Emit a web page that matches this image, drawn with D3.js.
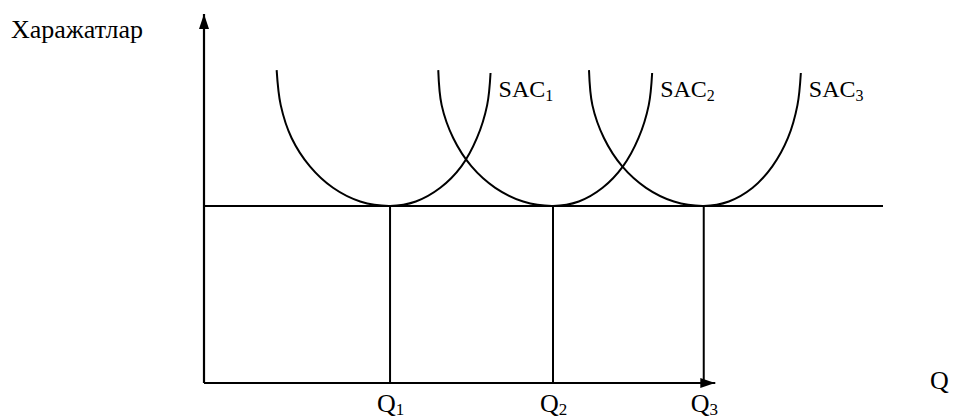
<!DOCTYPE html>
<html>
<head>
<meta charset="utf-8">
<script src="https://cdn.jsdelivr.net/npm/d3@7"></script>
<style>
  body { margin: 0; background: #fff; }
  svg text { font-family: "Liberation Serif", "Times New Roman", "DejaVu Serif", serif; fill: #000; }
</style>
</head>
<body>
<svg id="chart"></svg>
<script>
//------ Données ------
// Q (0..100) et coûts (0..100)
const qNames = ["1", "2", "3"]
const qMin = [27.4, 51.4, 73.6]        // Q1, Q2, Q3
const lacCost = 48.0                    // ligne horizontale (coût minimum)
const sac1Q = [10.7, 11.3, 12.9, 15.6, 19.0, 23.0, 27.4, 31.2, 34.8, 37.9, 40.2, 41.7, 42.2]
const sac2Q = [34.5, 35.0, 36.7, 39.4, 42.9, 47.0, 51.4, 55.2, 58.7, 61.7, 64.0, 65.5, 66.0]
const sac3Q = [56.7, 57.2, 58.9, 61.6, 65.1, 69.2, 73.6, 77.3, 80.8, 83.7, 86.0, 87.4, 87.9]
const sacCost = [84.8, 75.3, 66.4, 58.7, 52.9, 49.2, 48.0, 49.2, 52.9, 58.7, 66.4, 75.3, 84.0]
const sacNames = ["1", "2", "3"]
const yLabel = "Харажатлар"
const xLabel = "Q"
const xAxisEnd = 75.3

const serif = "'Liberation Serif', 'Times New Roman', 'DejaVu Serif', serif"

//taille du cadre
const width = 954, height = 418

const svg = d3.select("#chart")
    .attr("width", width)
    .attr("height", height)

// échelles
const x = d3.scaleLinear().domain([0, 100]).range([204, 883])
const y = d3.scaleLinear().domain([0, 100]).range([383, 14])

// flèche
svg.append("defs").append("marker")
    .attr("id", "arrow")
    .attr("markerUnits", "userSpaceOnUse")
    .attr("viewBox", "0 0 15 10")
    .attr("refX", 15).attr("refY", 5)
    .attr("markerWidth", 15).attr("markerHeight", 10)
    .attr("orient", "auto")
    .append("path")
    .attr("d", "M0,0 L15,5 L0,10 Z")
    .attr("fill", "#000")

//-- axes --
svg.append("line")
    .attr("x1", x(0)).attr("y1", y(0))
    .attr("x2", x(0)).attr("y2", y(100))
    .attr("stroke", "#000").attr("stroke-width", 2.2)
    .attr("marker-end", "url(#arrow)")

svg.append("line")
    .attr("x1", x(0)).attr("y1", y(0))
    .attr("x2", x(xAxisEnd)).attr("y2", y(0))
    .attr("stroke", "#000").attr("stroke-width", 2.2)
    .attr("marker-end", "url(#arrow)")

// ligne horizontale
svg.append("line")
    .attr("x1", x(0)).attr("y1", y(lacCost))
    .attr("x2", x(100)).attr("y2", y(lacCost))
    .attr("stroke", "#000").attr("stroke-width", 2)

// verticales Q1..Q3
svg.selectAll("line.qline")
    .data(qMin)
    .enter()
    .append("line")
    .attr("class", "qline")
    .attr("x1", d => x(d)).attr("y1", y(0))
    .attr("x2", d => x(d)).attr("y2", y(lacCost))
    .attr("stroke", "#000").attr("stroke-width", 2)

//-- courbes SAC --
const line = d3.line()
    .x(d => x(d[0]))
    .y(d => y(d[1]))
    .curve(d3.curveCatmullRom)

const curves = [sac1Q, sac2Q, sac3Q].map(qs => qs.map((q, i) => [q, sacCost[i]]))

svg.selectAll("path.sac")
    .data(curves)
    .enter()
    .append("path")
    .attr("class", "sac")
    .attr("d", line)
    .attr("fill", "none")
    .attr("stroke", "#000")
    .attr("stroke-width", 2)

//-- textes --
svg.append("text")
    .attr("x", 11).attr("y", 38)
    .attr("font-family", serif)
    .attr("font-size", 26)
    .text(yLabel)

svg.append("text")
    .attr("x", 930).attr("y", 389)
    .attr("font-family", serif)
    .attr("font-size", 26)
    .text(xLabel)

// SAC labels
const sacLab = svg.selectAll("text.saclab")
    .data(curves)
    .enter()
    .append("text")
    .attr("class", "saclab")
    .attr("x", d => x(d[d.length - 1][0]) + 8)
    .attr("y", 97)
    .attr("font-family", serif)
    .attr("font-size", 24)
sacLab.append("tspan").text("SAC")
sacLab.append("tspan").attr("font-size", 16).attr("dy", 4).text((d, i) => sacNames[i])

// Q labels
const qLab = svg.selectAll("text.qlab")
    .data(qMin)
    .enter()
    .append("text")
    .attr("class", "qlab")
    .attr("x", d => x(d) - 13)
    .attr("y", 412)
    .attr("font-family", serif)
    .attr("font-size", 26)
qLab.append("tspan").text("Q")
qLab.append("tspan").attr("font-size", 17).attr("dy", 3).text((d, i) => qNames[i])
</script>
</body>
</html>
